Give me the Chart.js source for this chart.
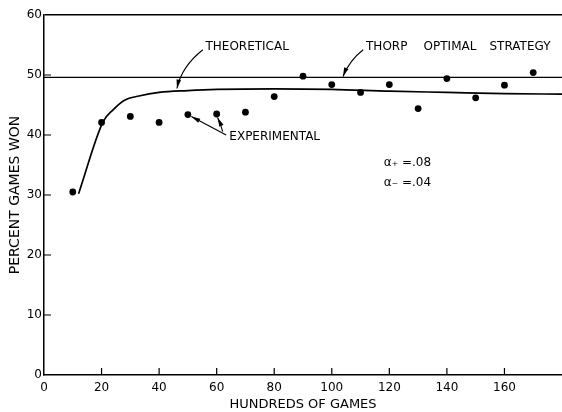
<!DOCTYPE html>
<html>
<head>
<meta charset="utf-8">
<script src="https://cdn.jsdelivr.net/npm/chart.js@4"></script>
<style>
  body { margin: 0; background: #fff; }
</style>
</head>
<body>
<canvas id="myChart" width="562" height="412"></canvas>
<script>
// experimental results: hundreds of games played vs percent of games won
var gamesX = [10, 20, 30, 40, 50, 60, 70, 80, 90, 100, 110, 120, 130, 140, 150, 160, 170];
var wonPct = [30.5, 42.1, 43.1, 42.1, 43.4, 43.5, 43.8, 46.4, 49.8, 48.4, 47.1, 48.4, 44.4, 49.4, 46.2, 48.3, 50.4];

// theoretical curve
var theoX = [12, 20.5, 24, 28, 33, 40, 50, 60, 80, 100, 120, 140, 160, 180];
var theoY = [30.2, 42.2, 44.2, 45.8, 46.5, 47.1, 47.4, 47.6, 47.7, 47.6, 47.3, 47.1, 46.9, 46.8];

// Thorp optimal strategy level
var thorpX = [0, 180];
var thorpY = [49.6, 49.6];

// tick labels
var xTicks = [0, 20, 40, 60, 80, 100, 120, 140, 160];
var yTicks = [0, 10, 20, 30, 40, 50, 60];

function pairs(xs, ys) {
  return xs.map(function (x, i) { return { x: x, y: ys[i] }; });
}

Chart.defaults.font.family = '"DejaVu Sans"';
Chart.defaults.color = '#000';

// labels and arrows, placed in data units
var notes = [
  { text: 'THEORETICAL', x: 56.1, y: 54.75 },
  { text: 'THORP', x: 111.9, y: 54.7 },
  { text: 'OPTIMAL', x: 131.9, y: 54.7 },
  { text: 'STRATEGY', x: 154.8, y: 54.7 },
  { text: 'EXPERIMENTAL', x: 64.4, y: 39.75 },
  { text: 'α₊ =.08', x: 118.1, y: 35.3 },
  { text: 'α₋ =.04', x: 118.1, y: 31.95 }
];
var arrows = [
  { from: [55.2, 54.2], ctrl: [47.8, 51.4], to: [46.2, 47.75] },
  { from: [110.9, 54.2], ctrl: [106.1, 52.4], to: [103.9, 49.75] },
  { from: [63.3, 40.0], ctrl: [57, 41.6], to: [51.2, 43.1] },
  { from: [62.1, 40.55], ctrl: [61.4, 41.8], to: [60.3, 42.9] }
];

var extras = {
  id: 'extras',
  afterDraw: function (chart) {
    var ctx = chart.ctx;
    var xs = chart.scales.x, ys = chart.scales.y;
    var area = chart.chartArea;
    ctx.save();
    ctx.strokeStyle = '#000';
    ctx.fillStyle = '#000';

    // inward tick marks
    ctx.lineWidth = 1.2;
    ctx.beginPath();
    xTicks.forEach(function (v) {
      if (v === 0) return;
      var px = xs.getPixelForValue(v);
      ctx.moveTo(px, area.bottom);
      ctx.lineTo(px, area.bottom - 7);
    });
    yTicks.forEach(function (v) {
      if (v === 0 || v === 60) return;
      var py = ys.getPixelForValue(v);
      ctx.moveTo(area.left, py);
      ctx.lineTo(area.left + 7, py);
    });
    ctx.stroke();

    // text labels
    ctx.font = '12px "DejaVu Sans"';
    ctx.textAlign = 'left';
    ctx.textBaseline = 'middle';
    notes.forEach(function (n) {
      ctx.fillText(n.text, xs.getPixelForValue(n.x), ys.getPixelForValue(n.y));
    });

    // arrows
    arrows.forEach(function (a) {
      var x0 = xs.getPixelForValue(a.from[0]), y0 = ys.getPixelForValue(a.from[1]);
      var cx = xs.getPixelForValue(a.ctrl[0]), cy = ys.getPixelForValue(a.ctrl[1]);
      var x1 = xs.getPixelForValue(a.to[0]), y1 = ys.getPixelForValue(a.to[1]);
      ctx.lineWidth = 1.1;
      ctx.beginPath();
      ctx.moveTo(x0, y0);
      ctx.quadraticCurveTo(cx, cy, x1, y1);
      ctx.stroke();
      var ang = Math.atan2(y1 - cy, x1 - cx);
      var len = 9, hw = 2.3;
      var bx = x1 - len * Math.cos(ang), by = y1 - len * Math.sin(ang);
      ctx.beginPath();
      ctx.moveTo(x1, y1);
      ctx.lineTo(bx + hw * Math.sin(ang), by - hw * Math.cos(ang));
      ctx.lineTo(bx - hw * Math.sin(ang), by + hw * Math.cos(ang));
      ctx.closePath();
      ctx.fill();
    });
    ctx.restore();
  }
};

var ctx = document.getElementById('myChart').getContext('2d');

var chart = new Chart(ctx, {
  type: 'scatter',
  data: {
    datasets: [{
      label: 'Experimental',
      data: pairs(gamesX, wonPct),
      showLine: false,
      pointRadius: 3.4,
      pointBackgroundColor: '#000',
      pointBorderWidth: 0
    }, {
      label: 'Theoretical',
      data: pairs(theoX, theoY),
      showLine: true,
      borderColor: '#000',
      borderWidth: 1.7,
      pointRadius: 0,
      cubicInterpolationMode: 'monotone'
    }, {
      label: 'Thorp optimal strategy',
      data: pairs(thorpX, thorpY),
      showLine: true,
      borderColor: '#000',
      borderWidth: 1.1,
      pointRadius: 0
    }]
  },
  options: {
    responsive: false,
    animation: false,
    devicePixelRatio: 1,
    layout: { autoPadding: false, padding: { top: 15, right: 0, left: 0, bottom: 0 } },
    plugins: {
      legend: { display: false },
      tooltip: { enabled: false }
    },
    scales: {
      x: {
        type: 'linear',
        min: 0,
        max: 180,
        afterBuildTicks: function (scale) {
          scale.ticks = xTicks.map(function (v) { return { value: v }; });
        },
        afterFit: function (scale) { scale.height = 37; },
        ticks: { font: { size: 12 }, padding: 6, maxRotation: 0 },
        grid: { drawOnChartArea: false, drawTicks: false },
        border: { color: '#000', width: 1.5 },
        title: {
          display: true,
          text: 'HUNDREDS OF GAMES',
          font: { size: 13 },
          padding: { top: 0, bottom: 0 }
        }
      },
      y: {
        min: 0,
        max: 60,
        afterBuildTicks: function (scale) {
          scale.ticks = yTicks.map(function (v) { return { value: v }; });
        },
        afterFit: function (scale) { scale.width = 44; },
        ticks: { font: { size: 12 }, padding: 2 },
        grid: {
          drawTicks: false,
          lineWidth: 1.5,
          color: function (c) {
            return c.tick && c.tick.value === 60 ? '#000' : 'rgba(0,0,0,0)';
          }
        },
        border: { color: '#000', width: 1.5 },
        title: {
          display: true,
          text: 'PERCENT GAMES WON',
          font: { size: 14 },
          padding: { top: 7, bottom: 0 }
        }
      }
    }
  },
  plugins: [extras]
});
</script>
</body>
</html>
